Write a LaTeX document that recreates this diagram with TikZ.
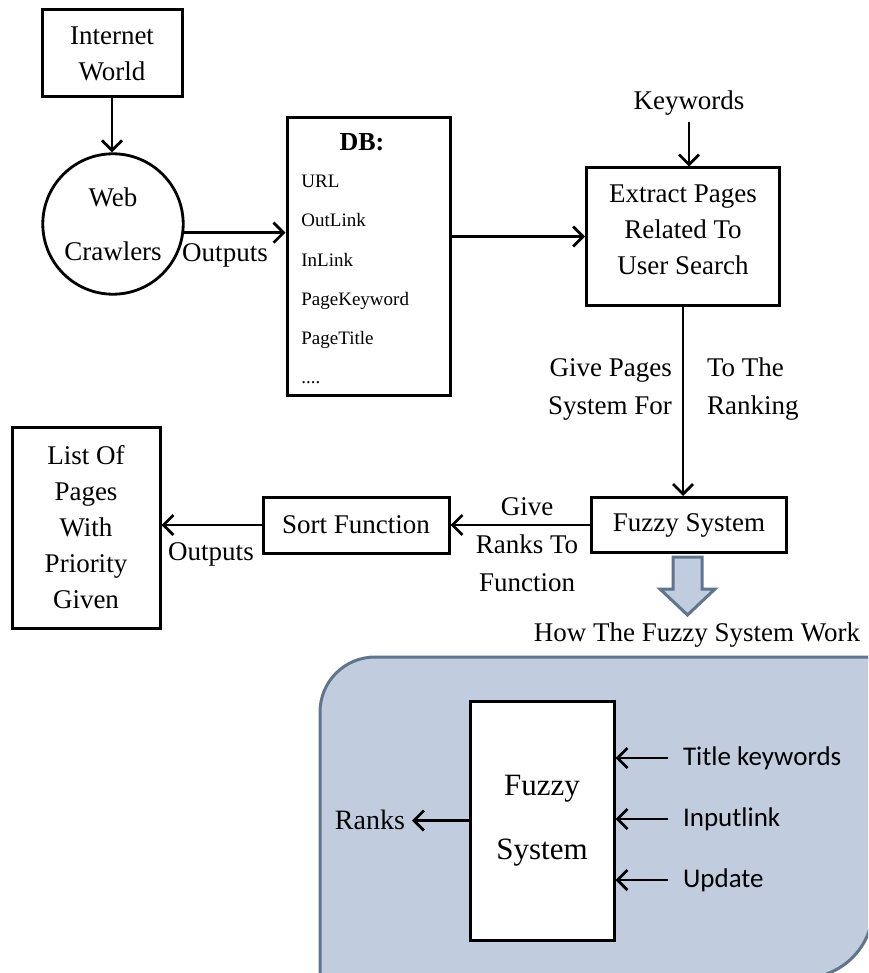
\documentclass[tikz,border=0pt]{standalone}
\usepackage{fontspec}
\setmainfont{Liberation Serif}
\newfontfamily\calibrifont{Carlito}
\usetikzlibrary{arrows.meta, positioning}
\definecolor{panelFill}{RGB}{193,204,222}
\definecolor{panelLine}{RGB}{96,116,140}

\begin{document}
\begin{tikzpicture}[x=0.5pt, y=-0.5pt, >={Straight Barb[length=5pt,width=10pt]},
  font=\fontsize{13.5}{18}\selectfont,
  box/.style={draw, line width=1.5pt, align=center, inner sep=2pt},
  link/.style={->, line width=1.4pt},
  dbitem/.style={anchor=base west, inner sep=0pt, font=\fontsize{9.5}{11}\selectfont},
  inlabel/.style={anchor=west, font=\calibrifont\fontsize{13.5}{16}\selectfont},
  tallfont/.style={align=center, font=\fontsize{13.5}{19}\selectfont}]
  \useasboundingbox (0,0) rectangle (868,973);

  % Panel behind the inner view
  \begin{scope}
    \clip (0,0) rectangle (868,973);
    \draw[line width=1.5pt, draw=panelLine, fill=panelFill]
      (320,990) -- (320,712) arc[start angle=180, end angle=270, radius=55]
      -- (873,657) -- (873,908) arc[start angle=0, end angle=90, radius=70]
      -- (320,978) -- cycle;
  \end{scope}

  % Upper flow
  \node[box, minimum width=70pt, minimum height=43.5pt] (world) at (112,53.5) {Internet\\World};
  \node[draw, circle, line width=1.4pt, minimum size=65pt, align=center] (crawler) at (113,224) {Web\\[9pt]Crawlers};
  \node[box, minimum width=81.5pt, minimum height=138.5pt] (db) at (368.5,256.5) {};
  \node[font=\bfseries\fontsize{13}{15}\selectfont] (dbtitle) at (362,142) {DB:};
  \foreach \field [count=\k] in {URL, OutLink, InLink, PageKeyword, PageTitle}
    \node[dbitem] (field\k) at (301,149+39*\k) {\field};
  \node[dbitem] (field6) at (301,383) {....};
  \node[box, minimum width=96.5pt, minimum height=68.5pt] (extract) at (683,236.5) {Extract Pages\\Related To\\User Search\\[-11pt]};
  \node (keywords) at (689,103) {Keywords};
  \node[box, minimum width=97.5pt, minimum height=27.5pt] (fuzzy) at (689,525) {Fuzzy System};
  \node[box, minimum width=93pt, minimum height=28pt] (sort) at (356,525) {Sort Function};
  \node[box, minimum width=74pt, minimum height=100.5pt] (list) at (86,527.5) {List Of\\Pages\\With\\Priority\\Given};

  % Labels
  \node (crawlout) at (225,255) {Outputs};
  \node[tallfont, anchor=east, align=right] (givepages) at (679,389) {Give Pages\\System For};
  \node[tallfont, anchor=west, align=left] (totheranking) at (700,389) {To The\\Ranking};
  \node[tallfont] (giveranks) at (527,545) {Give\\Ranks To\\Function};
  \node (listout) at (211,554) {Outputs};
  \node (howworks) at (697,635) {How The Fuzzy System Work};

  % Block arrow
  \draw[line width=1.5pt, draw=panelLine, fill=panelFill]
    (673,557) -- (702,557) -- (702,589) -- (715,589) -- (687.5,615)
    -- (660,589) -- (673,589) -- cycle;

  % Inner view
  \node[box, fill=white, minimum width=72pt, minimum height=119.5pt, font=\fontsize{15.5}{32}\selectfont] (core) at (542,820.5) {Fuzzy\\System};
  \node[anchor=east, font=\fontsize{14}{16}\selectfont] (ranks) at (412,820) {Ranks};
  \node[inlabel] (titlekw) at (676,758) {Title keywords};
  \node[inlabel] (inputlink) at (676,819) {Inputlink};
  \node[inlabel] (update) at (676,880) {Update};

  % Connectors
  \draw[link] (world.south) -- (world.south |- crawler.north);
  \draw[link] (crawler.-7) -- (crawler.-7 -| db.west);
  \draw[link] (extract.west -| db.east) -- (extract.west);
  \draw[link] (keywords.south) -- (keywords.south |- extract.north);
  \draw[link] (extract.south) -- (extract.south |- fuzzy.north);
  \draw[link] (fuzzy.west) -- (sort.east);
  \draw[link] (sort.west) -- (sort.west -| list.east);
  \draw[link] (core.west) -- (core.west -| ranks.east);
  \foreach \src in {titlekw, inputlink, update}
    \draw[link, shorten <=4pt] (\src.west) -- (\src.west -| core.east);
\end{tikzpicture}
\end{document}
